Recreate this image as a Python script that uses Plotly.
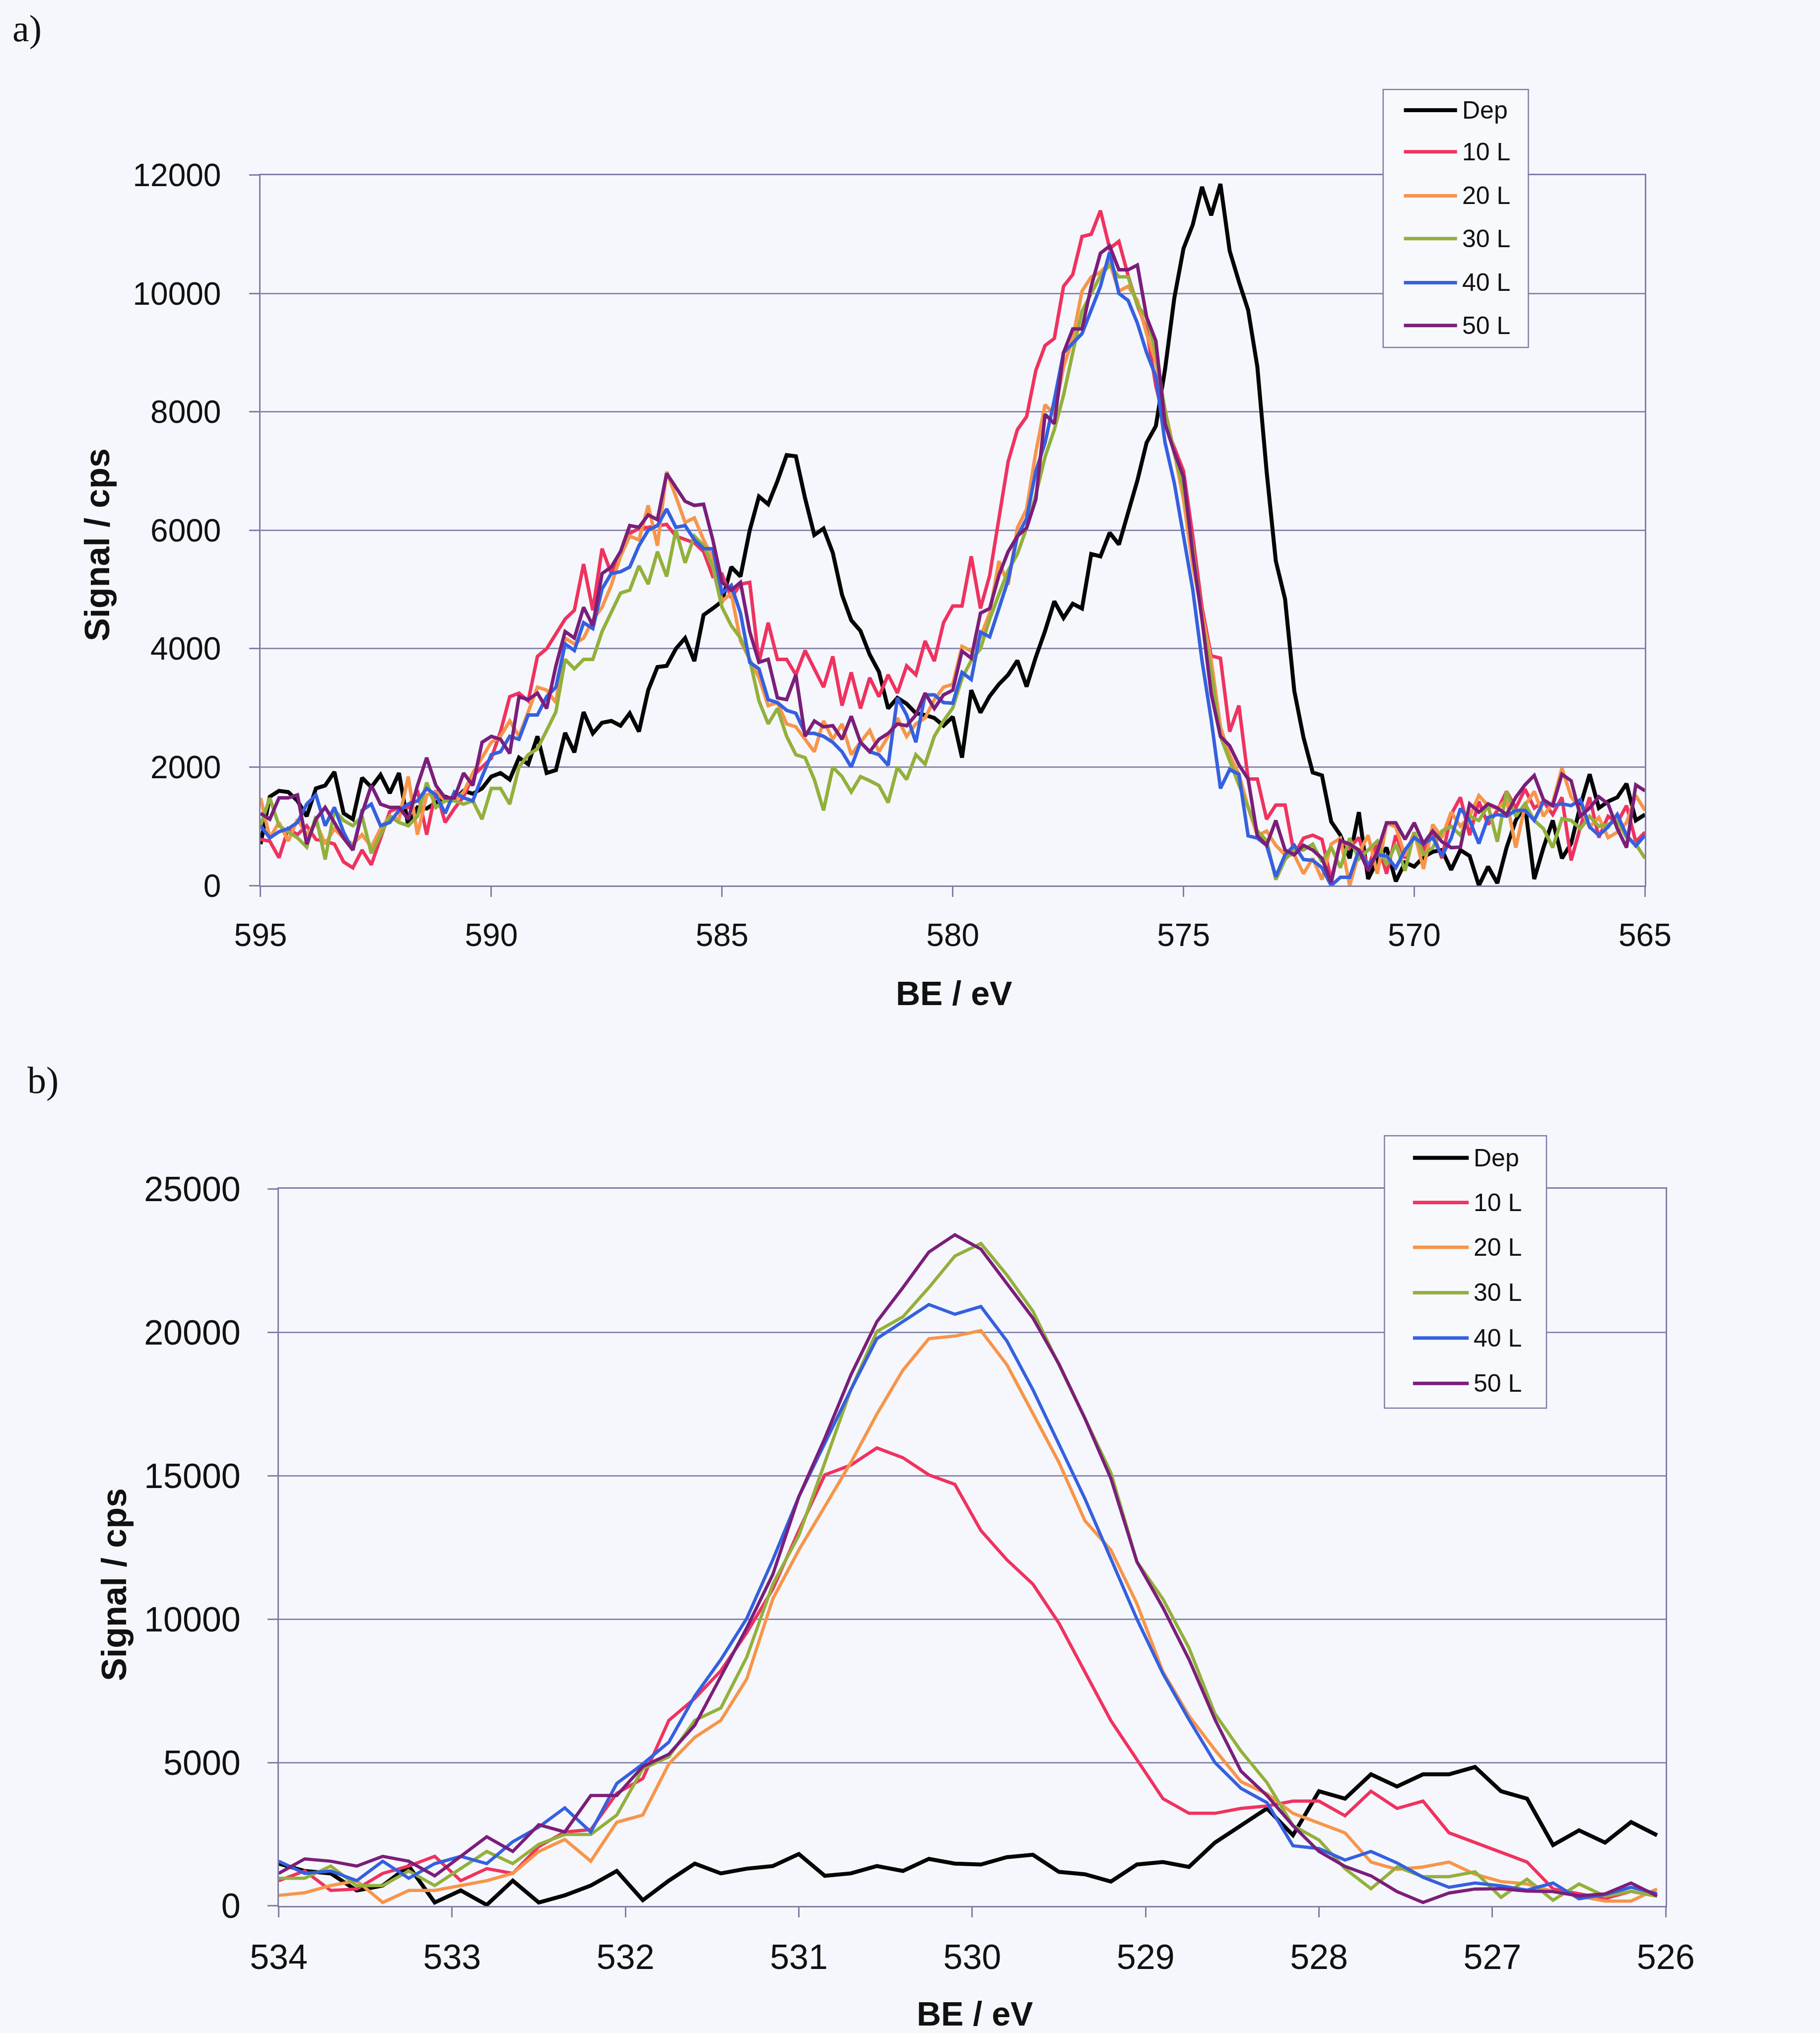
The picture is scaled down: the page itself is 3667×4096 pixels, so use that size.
import numpy as np
import plotly.graph_objects as go

# ---------------- data : panel a) (Cr 2p region) ----------------
be_a = np.round(np.linspace(595.0, 565.0, 151), 2)

dep_a = [700, 1500, 1600, 1580, 1430,
         1170, 1640, 1690, 1920, 1220,
         1120, 1820, 1660, 1870, 1560,
         1900, 1010, 1320, 1300, 1400,
         1500, 1450, 1600, 1550, 1640,
         1840, 1900, 1790, 2160, 2050,
         2520, 1900, 1950, 2580, 2250,
         2930, 2570, 2750, 2780, 2700,
         2910, 2600, 3300, 3690, 3710,
         4000, 4180, 3790, 4570, 4680,
         4800, 5380, 5220, 6000, 6570,
         6440, 6830, 7270, 7250, 6540,
         5920, 6030, 5620, 4910, 4480,
         4300, 3900, 3610, 2990, 3170,
         3070, 2910, 2880, 2830, 2700,
         2850, 2160, 3300, 2920, 3200,
         3400, 3560, 3800, 3360, 3860,
         4300, 4800, 4520, 4760, 4680,
         5600, 5560, 5960, 5760, 6300,
         6840, 7480, 7760, 8720, 9920,
         10760, 11160, 11800, 11320, 11850,
         10720, 10200, 9720, 8760, 7000,
         5480, 4840, 3290, 2500, 1910,
         1860, 1080, 850, 460, 1240,
         110, 425, 640, 70, 390,
         320, 480, 570, 600, 265,
         600, 500, 0, 320, 40,
         640, 1100, 1350, 110, 640,
         1100, 460, 710, 1350, 1880,
         1310, 1420, 1490, 1720, 1100,
         1200]

l10_a = [780, 750, 470, 960, 860,
         1010, 780, 750, 700, 400,
         300, 600, 350, 800, 1250,
         1320, 1320, 1610, 860, 1610,
         1065, 1300, 1500, 1850, 2000,
         2150, 2600, 3190, 3250, 3120,
         3870, 4000, 4250, 4500, 4650,
         5430, 4650, 5690, 5270, 5580,
         5950, 6030, 6050, 6080, 6100,
         5900, 5850, 5790, 5640, 5220,
         5260, 4860, 5090, 5120, 3770,
         4440, 3820, 3820, 3560, 3970,
         3660, 3350, 3870, 3040, 3600,
         2990, 3510, 3190, 3560, 3250,
         3710, 3560, 4130, 3790, 4440,
         4720, 4720, 5560, 4680, 5240,
         6200, 7160, 7700, 7920, 8700,
         9120, 9240, 10120, 10320, 10960,
         11000, 11400, 10760, 10880, 10300,
         9800, 9400, 8440, 7800, 7400,
         7000, 5900, 4700, 3880, 3840,
         2600, 3040, 1800, 1800, 1120,
         1360, 1360, 520, 800, 850,
         780, 100, 750, 640, 810,
         300, 740, 200, 850, 460,
         850, 600, 885, 460, 1200,
         1490, 850, 1420, 1030, 1270,
         1590, 1310, 1630, 1310, 1420,
         1200, 1490, 425, 990, 1490,
         810, 1170, 1060, 1350, 740,
         900]

l20_a = [1480, 805, 1065, 750, 1120,
         860, 1065, 700, 960, 800,
         700, 860, 650, 960, 1170,
         1120, 1840, 860, 1530, 1580,
         1430, 1430, 1580, 1900, 2160,
         2420, 2520, 2780, 2520, 2930,
         3350, 3300, 3090, 4180, 4080,
         4180, 4490, 4700, 5070, 5560,
         5900, 5840, 6420, 5740, 6990,
         6570, 6130, 6210, 5840, 5530,
         4800, 4940, 4130, 3820, 3510,
         3040, 3090, 2730, 2680, 2470,
         2260, 2780, 2470, 2730, 2210,
         2420, 2620, 2260, 2520, 2830,
         2520, 2730, 2830, 3140, 3350,
         3400, 4040, 3960, 4200, 4600,
         5480, 5080, 6040, 6360, 7320,
         8120, 7960, 8760, 9240, 10040,
         10280, 10360, 10520, 10040, 10120,
         9880, 9320, 8840, 8040, 7320,
         6520, 5400, 4600, 3800, 2680,
         2200, 1880, 1320, 840, 920,
         680, 520, 520, 200, 460,
         100, 700, 800, 0, 550,
         850, 200, 1050, 990, 500,
         900, 280, 1030, 810, 1240,
         1000, 1170, 1520, 1350, 1300,
         1450, 640, 1350, 1590, 1170,
         1400, 1980, 1500, 1300, 990,
         1150, 810, 900, 1060, 1520,
         1270]

l30_a = [1010, 1480, 1010, 910, 805,
         650, 1170, 440, 1270, 1100,
         1010, 1170, 545, 860, 1170,
         1065, 1010, 1170, 1740, 1320,
         1430, 1430, 1375, 1430, 1120,
         1640, 1640, 1375, 2000, 2210,
         2310, 2620, 2935, 3820, 3660,
         3820, 3820, 4290, 4600, 4940,
         4990, 5400, 5090, 5640, 5220,
         6000, 5450, 5900, 5740, 5380,
         4700, 4390, 4180, 3820, 3120,
         2730, 2990, 2520, 2210, 2160,
         1790, 1270, 2000, 1840, 1580,
         1840, 1770, 1690, 1400, 2000,
         1790, 2210, 2050, 2520, 2780,
         3000, 3500, 3800, 4000, 4500,
         4920, 5320, 5600, 6040, 6600,
         7240, 7700, 8280, 9000, 9700,
         10000, 10300, 10480, 10280, 10280,
         9800, 9600, 9000, 8000, 7300,
         6700, 5700, 4500, 3600, 2520,
         2100, 1700, 1320, 920, 760,
         100, 440, 600, 600, 700,
         400, 650, 300, 800, 450,
         600, 750, 350, 700, 250,
         900, 530, 640, 920, 1000,
         850, 1170, 1100, 1350, 740,
         1590, 1170, 1380, 1100, 960,
         640, 1130, 1100, 960, 1170,
         1000, 1030, 1100, 810, 700,
         460]

l40_a = [1010, 805, 910, 960, 1065,
         1375, 1530, 1010, 1320, 900,
         600, 1270, 1375, 1010, 1065,
         1270, 1375, 1430, 1640, 1530,
         1220, 1580, 1480, 1430, 1840,
         2210, 2260, 2520, 2470, 2880,
         2880, 3190, 3350, 4080, 3970,
         4440, 4340, 5010, 5270, 5300,
         5380, 5740, 6000, 6080, 6360,
         6050, 6080, 5840, 5690, 5690,
         4940, 5070, 4600, 3770, 3660,
         3140, 3090, 2960, 2910, 2570,
         2570, 2520, 2420, 2260, 2000,
         2420, 2260, 2210, 2030, 3170,
         2880, 2420, 3220, 3220, 3090,
         3080, 3600, 3480, 4280, 4200,
         4680, 5160, 5900, 6200, 7000,
         7480, 8200, 9000, 9160, 9320,
         9720, 10120, 10700, 10000, 9880,
         9500, 9000, 8600, 7480, 6800,
         5900, 5000, 3800, 2800, 1640,
         1960, 1880, 840, 800, 680,
         150, 520, 680, 440, 425,
         300, 0, 140, 140, 600,
         350, 520, 500, 300, 600,
         810, 700, 810, 500, 800,
         1300, 1100, 710, 1150, 1200,
         1170, 1270, 1270, 1100, 1420,
         1350, 1380, 1350, 1450, 990,
         850, 990, 1200, 850, 670,
         850]

l50_a = [1220, 1120, 1480, 1480, 1530,
         700, 1120, 1320, 1065, 800,
         600, 1220, 1690, 1375, 1320,
         1320, 1120, 1690, 2160, 1690,
         1480, 1480, 1900, 1690, 2420,
         2520, 2470, 2230, 3190, 3140,
         3250, 2990, 3710, 4290, 4180,
         4700, 4390, 5270, 5380, 5640,
         6080, 6050, 6260, 6180, 6960,
         6730, 6490, 6420, 6440, 5840,
         5120, 4990, 5120, 4290, 3770,
         3820, 3170, 3140, 3560, 2520,
         2780, 2680, 2700, 2470, 2860,
         2420, 2260, 2470, 2570, 2730,
         2700, 2880, 3250, 2990, 3220,
         3300, 3960, 3840, 4600, 4680,
         5240, 5640, 5900, 6040, 6520,
         7960, 7800, 9000, 9400, 9400,
         10120, 10680, 10800, 10400, 10400,
         10480, 9600, 9200, 7800, 7320,
         6900, 5600, 4500, 3240, 2520,
         2360, 2040, 1800, 840, 680,
         1100, 600, 520, 680, 600,
         460, 50, 760, 700, 600,
         250, 570, 1060, 1060, 780,
         1060, 710, 920, 740, 640,
         650, 1380, 1240, 1380, 1310,
         1200, 1490, 1700, 1860, 1450,
         1350, 1880, 1770, 1170, 1310,
         1500, 1380, 960, 640, 1700,
         1600]

# ---------------- data : panel b) (O 1s region) ----------------
be_b = np.round(534.0 - 0.15 * np.arange(54), 2)

dep_b = [1475, 1220, 1135, 540, 710, 1390, 120, 540, 35, 880,
         120, 370, 710, 1220, 200, 880, 1475, 1135, 1300, 1390,
         1810, 1050, 1135, 1390, 1220, 1640, 1475,
         1445, 1700, 1785, 1190, 1105, 850, 1445, 1530, 1360, 2210,
         2800, 3400, 2465, 4000, 3740, 4590, 4165, 4590, 4590, 4845,
         4000, 3740, 2125, 2635, 2210, 2925, 2465]

l10_b = [880, 1220, 540, 590, 1135, 1390, 1730, 880, 1300, 1135,
         2070, 2580, 2660, 3930, 4440, 6470, 7240, 8200, 9530, 11050,
         13090, 15030, 15370, 15970, 15630, 15030, 14700,
         13090, 12070, 11220, 9860, 8160, 6460, 5100, 3740, 3230, 3230,
         3400, 3485, 3655, 3655, 3145, 4000, 3400, 3655, 2550, 2210,
         1870, 1530, 595, 425, 255, 510, 340]

l20_b = [370, 460, 710, 880, 120, 540, 540, 710, 880, 1135,
         1900, 2320, 1560, 2920, 3170, 4950, 5880, 6470, 7920, 10710,
         12410, 13930, 15460, 17150, 18680, 19780, 19870,
         20060, 18870, 17170, 15470, 13430, 12410, 10540, 8160, 6630, 5440,
         4335, 3910, 3230, 2890, 2550, 1530, 1275, 1360, 1530, 1105,
         850, 765, 510, 340, 170, 170, 595]

l30_b = [965, 965, 1390, 710, 710, 1220, 710, 1300, 1900, 1475,
         2150, 2490, 2490, 3170, 4780, 5200, 6470, 6900, 8680, 11220,
         12920, 15460, 18000, 20030, 20540, 21560, 22660,
         23100, 22000, 20740, 18900, 17000, 15100, 12000, 10700, 9000, 6700,
         5400, 4300, 2800, 2300, 1300, 600, 1360, 1020, 1020, 1190,
         300, 935, 200, 765, 340, 510, 340]

l40_b = [1560, 1135, 1220, 880, 1560, 965, 1475, 1730, 1475, 2240,
         2750, 3420, 2580, 4270, 4950, 5710, 7320, 8590, 10030, 12070,
         14270, 16140, 18000, 19780, 20370, 20970, 20630,
         20900, 19700, 18000, 16100, 14200, 12100, 10000, 8100, 6500, 5000,
         4100, 3600, 2100, 2000, 1600, 1900, 1500, 1000, 650, 800,
         700, 550, 800, 250, 400, 650, 430]

l50_b = [1135, 1640, 1560, 1390, 1730, 1560, 1050, 1730, 2410, 1900,
         2830, 2580, 3850, 3850, 4860, 5290, 6300, 8000, 9700, 11560,
         14270, 16310, 18510, 20370, 21560, 22800, 23400,
         22900, 21700, 20500, 18900, 17000, 14900, 12000, 10400, 8600, 6500,
         4700, 3850, 2800, 1900, 1380, 1050, 500, 120, 450, 590,
         600, 520, 500, 350, 420, 800, 350]

series_names = ["Dep", "10 L", "20 L", "30 L", "40 L", "50 L"]
series_colors = ["#050505", "#F0325F", "#F7954A", "#93B03C", "#3560E0", "#7B1E7A"]
series_a = [dep_a, l10_a, l20_a, l30_a, l40_a, l50_a]
series_b = [dep_b, l10_b, l20_b, l30_b, l40_b, l50_b]

xticks_a = [595, 590, 585, 580, 575, 570, 565]
yticks_a = [0, 2000, 4000, 6000, 8000, 10000, 12000]
xticks_b = [534, 533, 532, 531, 530, 529, 528, 527, 526]
yticks_b = [0, 5000, 10000, 15000, 20000, 25000]

# ---------------- figure ----------------
W, H = 3667, 4096
REF_W, REF_H = 1404.0, 1568.0   # reference picture (as viewed) size


def px(x):
    return x / REF_W


def py(y):
    return 1.0 - y / REF_H


BG = "#F5F7FC"
AXC = "#7E7EA6"
GRIDC = "#8A8AB2"
FONT = "Liberation Sans, Arial, sans-serif"

fig = go.Figure()
for name, col, ys in zip(series_names, series_colors, series_a):
    fig.add_trace(go.Scatter(x=be_a, y=ys, mode="lines", name=name,
                             line=dict(color=col, width=8 if name == "Dep" else 7),
                             xaxis="x", yaxis="y", showlegend=False))
for name, col, ys in zip(series_names, series_colors, series_b):
    fig.add_trace(go.Scatter(x=be_b, y=ys, mode="lines", name=name,
                             line=dict(color=col, width=8 if name == "Dep" else 6.5),
                             xaxis="x2", yaxis="y2", showlegend=False))

common_axis = dict(showline=True, mirror=True, linecolor=AXC, linewidth=2.5,
                   ticks="outside", ticklen=20, tickwidth=2.5, tickcolor=AXC,
                   zeroline=False, automargin=False)

fig.update_layout(
    template="none",
    width=W, height=H, autosize=False,
    margin=dict(l=0, r=0, t=0, b=0, pad=0),
    paper_bgcolor=BG, plot_bgcolor=BG,
    font=dict(family=FONT, color="#111111"),
    showlegend=False,
    xaxis=dict(domain=[px(201), px(1269)], range=[595, 565], tickvals=xticks_a,
               showgrid=False, anchor="y", tickfont=dict(size=64),
               ticklabelstandoff=22, **common_axis),
    yaxis=dict(domain=[py(683), py(135)], range=[0, 12000], tickvals=yticks_a,
               tickformat="d", showgrid=True, gridcolor=GRIDC, gridwidth=2.5,
               anchor="x", tickfont=dict(size=64), ticklabelstandoff=44,
               **common_axis),
    xaxis2=dict(domain=[px(215), px(1285)], range=[534, 526], tickvals=xticks_b,
                showgrid=False, anchor="y2", tickfont=dict(size=70),
                ticklabelstandoff=20, **common_axis),
    yaxis2=dict(domain=[py(1470), py(917)], range=[0, 25000], tickvals=yticks_b,
                tickformat="d", showgrid=True, gridcolor=GRIDC, gridwidth=2.5,
                anchor="x2", tickfont=dict(size=70), ticklabelstandoff=40,
                **common_axis),
)

annotations = []
shapes = []

serif = "Liberation Serif, Times New Roman, serif"
# panel labels
annotations.append(dict(text="a)", x=px(21), y=py(22), xref="paper", yref="paper",
                        xanchor="center", yanchor="middle", showarrow=False,
                        font=dict(family=serif, size=76, color="#111111")))
annotations.append(dict(text="b)", x=px(33), y=py(833), xref="paper", yref="paper",
                        xanchor="center", yanchor="middle", showarrow=False,
                        font=dict(family=serif, size=76, color="#111111")))

# axis titles
for (tx, ty, txt, ang, fs) in [(75, 420, "Signal / cps", -90, 70),
                               (736, 766, "BE / eV", 0, 68),
                               (88, 1222, "Signal / cps", -90, 70),
                               (752, 1553, "BE / eV", 0, 68)]:
    annotations.append(dict(text="<b>%s</b>" % txt, x=px(tx), y=py(ty), xref="paper",
                            yref="paper", xanchor="center", yanchor="middle",
                            showarrow=False, textangle=ang,
                            font=dict(size=fs, color="#111111")))

# legends (Excel style boxes)
legend_specs = [
    dict(box=(1067, 69, 1179, 268), line=(1083, 1124), text_x=1127,
         rows=[85, 117, 151, 184, 218, 251]),
    dict(box=(1068, 876, 1193, 1086), line=(1090, 1133), text_x=1136,
         rows=[893, 927.5, 962, 997, 1032, 1067]),
]
for spec in legend_specs:
    x0, y0, x1, y1 = spec["box"]
    shapes.append(dict(type="rect", xref="paper", yref="paper",
                       x0=px(x0), x1=px(x1), y0=py(y1), y1=py(y0),
                       line=dict(color=AXC, width=2.5), fillcolor="#F8F9FD",
                       layer="above"))
    for name, col, ry in zip(series_names, series_colors, spec["rows"]):
        shapes.append(dict(type="line", xref="paper", yref="paper",
                           x0=px(spec["line"][0]), x1=px(spec["line"][1]),
                           y0=py(ry), y1=py(ry),
                           line=dict(color=col, width=8 if name == "Dep" else 7),
                           layer="above"))
        annotations.append(dict(text=name, x=px(spec["text_x"]), y=py(ry),
                                xref="paper", yref="paper", xanchor="left",
                                yanchor="middle", showarrow=False,
                                font=dict(size=50, color="#111111")))

fig.update_layout(annotations=annotations, shapes=shapes)

fig.write_html("out.html", config={"displayModeBar": False},
               post_script="document.body.style.margin='0';")
